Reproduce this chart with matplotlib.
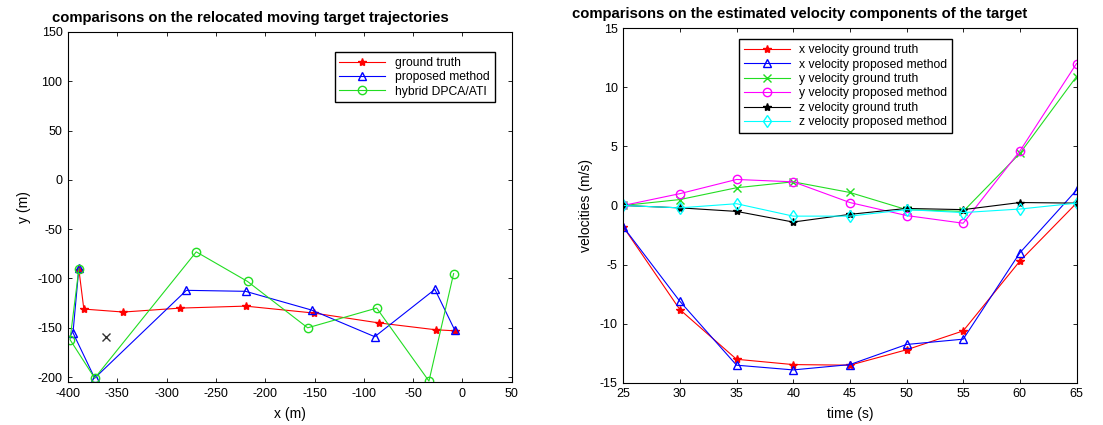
import matplotlib.pyplot as plt

plt.rcParams['font.family'] = ['Liberation Sans', 'DejaVu Sans']
plt.rcParams['axes.unicode_minus'] = False

# Relocated trajectory positions (m)
gt_x = [-389, -384, -344, -286, -220, -151, -85, -27, -8]
gt_y = [-91, -131, -134, -130, -128, -135, -145, -152, -153]
prop_x = [-389, -395, -373, -280, -220, -153, -89, -28, -8]
prop_y = [-89, -155, -201, -112, -113, -132, -159, -111, -152]
hyb_x = [-389, -398, -373, -270, -218, -157, -87, -34, -9]
hyb_y = [-90, -162, -201, -73, -103, -150, -130, -204, -95]
stray_x = [-362]
stray_y = [-159]

# Velocity components over time (m/s)
t = [25, 30, 35, 40, 45, 50, 55, 60, 65]
vx_gt = [-1.8, -8.8, -13.0, -13.45, -13.5, -12.2, -10.6, -4.7, 0.2]
vx_prop = [-1.8, -8.1, -13.5, -13.9, -13.45, -11.75, -11.3, -4.0, 1.3]
vy_gt = [0.0, 0.5, 1.5, 2.0, 1.1, -0.35, -0.5, 4.4, 10.9]
vy_prop = [0.0, 1.0, 2.2, 2.0, 0.25, -0.85, -1.5, 4.6, 12.0]
vz_gt = [0.0, -0.2, -0.5, -1.4, -0.75, -0.25, -0.35, 0.25, 0.2]
vz_prop = [0.0, -0.2, 0.15, -0.9, -0.9, -0.35, -0.6, -0.3, 0.2]

fig = plt.figure(figsize=(11.03, 4.25), dpi=100)
ax1 = fig.add_axes([0.0617, 0.101, 0.4023, 0.824])
ax2 = fig.add_axes([0.565, 0.099, 0.411, 0.835])

lw = 0.8
ms = 6

ax1.plot(gt_x, gt_y, '-*', color='red', lw=lw, ms=ms, label='ground truth')
ax1.plot(prop_x, prop_y, '-^', color='blue', lw=lw, ms=ms, mfc='none', label='proposed method')
ax1.plot(hyb_x, hyb_y, '-o', color='#22dd22', lw=lw, ms=ms, mfc='none', label='hybrid DPCA/ATI')
ax1.plot(stray_x, stray_y, 'x', color='#333333', ms=ms)
ax1.set_xlim(-400, 50)
ax1.set_ylim(-205, 150)
ax1.set_xticks(range(-400, 51, 50))
ax1.set_yticks(range(-200, 151, 50))
ax1.set_xlabel('x (m)', fontsize=10, labelpad=5)
ax1.set_ylabel('y (m)', fontsize=10, labelpad=5)
ax1.set_title('comparisons on the relocated moving target trajectories',
              fontsize=10.7, fontweight='bold', pad=7, x=0.41)
ax1.legend(loc='upper right', bbox_to_anchor=(0.975, 0.96), fontsize=8.7,
           fancybox=False, edgecolor='black', framealpha=1,
           handlelength=3.8, borderpad=0.4, labelspacing=0.2)

ax2.plot(t, vx_gt, '-*', color='red', lw=lw, ms=ms, label='x velocity ground truth')
ax2.plot(t, vx_prop, '-^', color='blue', lw=lw, ms=ms, mfc='none', label='x velocity proposed method')
ax2.plot(t, vy_gt, '-x', color='#22dd22', lw=lw, ms=ms, label='y velocity ground truth')
ax2.plot(t, vy_prop, '-o', color='magenta', lw=lw, ms=ms, mfc='none', label='y velocity proposed method')
ax2.plot(t, vz_gt, '-*', color='black', lw=lw, ms=ms, label='z velocity ground truth')
ax2.plot(t, vz_prop, '-d', color='cyan', lw=lw, ms=ms, mfc='none', label='z velocity proposed method')
ax2.set_xlim(25, 65)
ax2.set_ylim(-15, 15)
ax2.set_xticks(t)
ax2.set_yticks(range(-15, 16, 5))
ax2.set_xlabel('time (s)', fontsize=10, labelpad=5)
ax2.set_ylabel('velocities (m/s)', fontsize=10, labelpad=5)
ax2.set_title('comparisons on the estimated velocity components of the target',
              fontsize=10.7, fontweight='bold', pad=7, x=0.39)
ax2.legend(loc='upper left', bbox_to_anchor=(0.242, 0.985), fontsize=8.7,
           fancybox=False, edgecolor='black', framealpha=1,
           handlelength=3.8, borderpad=0.4, labelspacing=0.2)

for ax in (ax1, ax2):
    ax.tick_params(direction='in', top=True, right=True, labelsize=9,
                   length=3, width=0.6, pad=4)
    for s in ax.spines.values():
        s.set_linewidth(0.8)

fig.savefig('out.png', dpi=100)
